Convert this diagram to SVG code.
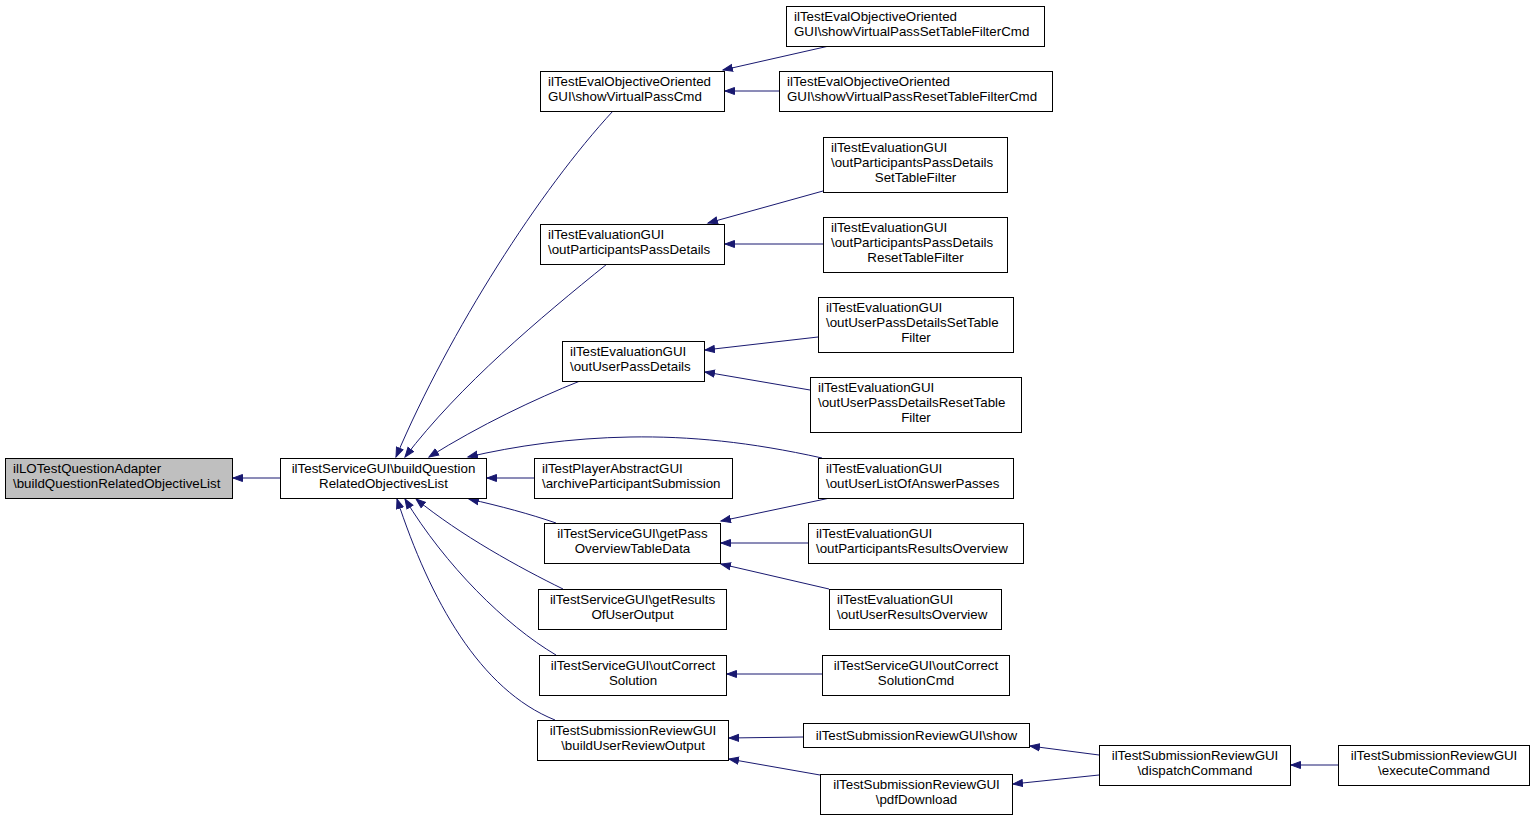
<svg xmlns="http://www.w3.org/2000/svg" width="1535" height="820" viewBox="0 0 1535 820">
<style>
rect{fill:#fff;stroke:#000;stroke-width:1}
#root rect{fill:#bfbfbf}
text{font-family:"Liberation Sans",Arial,Helvetica,sans-serif;font-size:13.33px;fill:#000}
.c{text-anchor:middle}
.l{text-anchor:start}
#edges path{fill:none;stroke:#191970;stroke-width:1;marker-end:url(#arr)}
</style>
<defs>
<marker id="arr" markerUnits="userSpaceOnUse" markerWidth="12" markerHeight="9" refX="10" refY="4.5" orient="auto">
<path d="M0.5,1 L10,4.5 L0.5,8 Z" fill="#191970" stroke="#191970"/>
</marker>
</defs>
<rect x="0" y="0" width="1535" height="820" style="fill:#fff;stroke:none"/>
<g id="edges">
<path d="M280,478 L233,478"/>
<path d="M613,111 C540,190 450,330 396,457"/>
<path d="M607,264 C540,318 460,385 405,457"/>
<path d="M580,381 C535,399 480,425 429,457"/>
<path d="M822,458 C750,442 690,436 630,437 C570,438 515,446 468,457"/>
<path d="M534,478 L487,478"/>
<path d="M556,523 C530,514 500,506 469,499"/>
<path d="M563,589 C520,568 460,535 416,499"/>
<path d="M556,655 C505,625 445,565 405,499"/>
<path d="M555,720 C480,690 430,600 397,499"/>
<path d="M829,46 L723,70"/>
<path d="M779,91 L725,91"/>
<path d="M823,191 L708,223"/>
<path d="M823,244 L725,244"/>
<path d="M818,337 L705,350"/>
<path d="M810,390 L705,372"/>
<path d="M830,498 L721,521"/>
<path d="M808,543 L721,543"/>
<path d="M829,589 L721,564"/>
<path d="M822,674 L727,674"/>
<path d="M803,737 L729,738"/>
<path d="M820,775 L729,759"/>
<path d="M1099,755 L1030,746"/>
<path d="M1099,775 L1013,784"/>
<path d="M1338,765 L1291,765"/>
</g>
<g id="root"><rect x="5.5" y="458.5" width="227" height="40"/><text class="l" x="13" y="473">ilLOTestQuestionAdapter</text><text class="l" x="13" y="488">\buildQuestionRelatedObjectiveList</text></g>
<g id="nB"><rect x="280.5" y="458.5" width="206" height="40"/><text class="c" x="383.5" y="473">ilTestServiceGUI\buildQuestion</text><text class="c" x="383.5" y="488">RelatedObjectivesList</text></g>
<g id="nC1"><rect x="540.5" y="71.5" width="184" height="40"/><text class="l" x="548" y="86">ilTestEvalObjectiveOriented</text><text class="l" x="548" y="101">GUI\showVirtualPassCmd</text></g>
<g id="nC2"><rect x="540.5" y="224.5" width="184" height="40"/><text class="l" x="548" y="239">ilTestEvaluationGUI</text><text class="l" x="548" y="254">\outParticipantsPassDetails</text></g>
<g id="nC3"><rect x="562.5" y="341.5" width="142" height="40"/><text class="l" x="570" y="356">ilTestEvaluationGUI</text><text class="l" x="570" y="371">\outUserPassDetails</text></g>
<g id="nC4"><rect x="534.5" y="458.5" width="198" height="40"/><text class="l" x="542" y="473">ilTestPlayerAbstractGUI</text><text class="l" x="542" y="488">\archiveParticipantSubmission</text></g>
<g id="nC5"><rect x="544.5" y="523.5" width="176" height="40"/><text class="c" x="632.5" y="538">ilTestServiceGUI\getPass</text><text class="c" x="632.5" y="553">OverviewTableData</text></g>
<g id="nC6"><rect x="538.5" y="589.5" width="188" height="40"/><text class="c" x="632.5" y="604">ilTestServiceGUI\getResults</text><text class="c" x="632.5" y="619">OfUserOutput</text></g>
<g id="nC7"><rect x="539.5" y="655.5" width="187" height="40"/><text class="c" x="633" y="670">ilTestServiceGUI\outCorrect</text><text class="c" x="633" y="685">Solution</text></g>
<g id="nC8"><rect x="537.5" y="720.5" width="191" height="40"/><text class="c" x="633" y="735">ilTestSubmissionReviewGUI</text><text class="c" x="633" y="750">\buildUserReviewOutput</text></g>
<g id="nD1"><rect x="786.5" y="6.5" width="258" height="40"/><text class="l" x="794" y="21">ilTestEvalObjectiveOriented</text><text class="l" x="794" y="36">GUI\showVirtualPassSetTableFilterCmd</text></g>
<g id="nD2"><rect x="779.5" y="71.5" width="273" height="40"/><text class="l" x="787" y="86">ilTestEvalObjectiveOriented</text><text class="l" x="787" y="101">GUI\showVirtualPassResetTableFilterCmd</text></g>
<g id="nD3"><rect x="823.5" y="137.5" width="184" height="55"/><text class="l" x="831" y="152">ilTestEvaluationGUI</text><text class="l" x="831" y="167">\outParticipantsPassDetails</text><text class="c" x="915.5" y="182">SetTableFilter</text></g>
<g id="nD4"><rect x="823.5" y="217.5" width="184" height="55"/><text class="l" x="831" y="232">ilTestEvaluationGUI</text><text class="l" x="831" y="247">\outParticipantsPassDetails</text><text class="c" x="915.5" y="262">ResetTableFilter</text></g>
<g id="nD5"><rect x="818.5" y="297.5" width="195" height="55"/><text class="l" x="826" y="312">ilTestEvaluationGUI</text><text class="l" x="826" y="327">\outUserPassDetailsSetTable</text><text class="c" x="916" y="342">Filter</text></g>
<g id="nD6"><rect x="810.5" y="377.5" width="211" height="55"/><text class="l" x="818" y="392">ilTestEvaluationGUI</text><text class="l" x="818" y="407">\outUserPassDetailsResetTable</text><text class="c" x="916" y="422">Filter</text></g>
<g id="nD7"><rect x="818.5" y="458.5" width="195" height="40"/><text class="l" x="826" y="473">ilTestEvaluationGUI</text><text class="l" x="826" y="488">\outUserListOfAnswerPasses</text></g>
<g id="nD8"><rect x="808.5" y="523.5" width="215" height="40"/><text class="l" x="816" y="538">ilTestEvaluationGUI</text><text class="l" x="816" y="553">\outParticipantsResultsOverview</text></g>
<g id="nD9"><rect x="829.5" y="589.5" width="172" height="40"/><text class="l" x="837" y="604">ilTestEvaluationGUI</text><text class="l" x="837" y="619">\outUserResultsOverview</text></g>
<g id="nD10"><rect x="822.5" y="655.5" width="187" height="40"/><text class="c" x="916" y="670">ilTestServiceGUI\outCorrect</text><text class="c" x="916" y="685">SolutionCmd</text></g>
<g id="nD11"><rect x="803.5" y="723.5" width="226" height="24"/><text class="c" x="916.5" y="740">ilTestSubmissionReviewGUI\show</text></g>
<g id="nD12"><rect x="820.5" y="774.5" width="192" height="40"/><text class="c" x="916.5" y="789">ilTestSubmissionReviewGUI</text><text class="c" x="916.5" y="804">\pdfDownload</text></g>
<g id="nE1"><rect x="1099.5" y="745.5" width="191" height="40"/><text class="c" x="1195" y="760">ilTestSubmissionReviewGUI</text><text class="c" x="1195" y="775">\dispatchCommand</text></g>
<g id="nF1"><rect x="1338.5" y="745.5" width="191" height="40"/><text class="c" x="1434" y="760">ilTestSubmissionReviewGUI</text><text class="c" x="1434" y="775">\executeCommand</text></g>
</svg>
